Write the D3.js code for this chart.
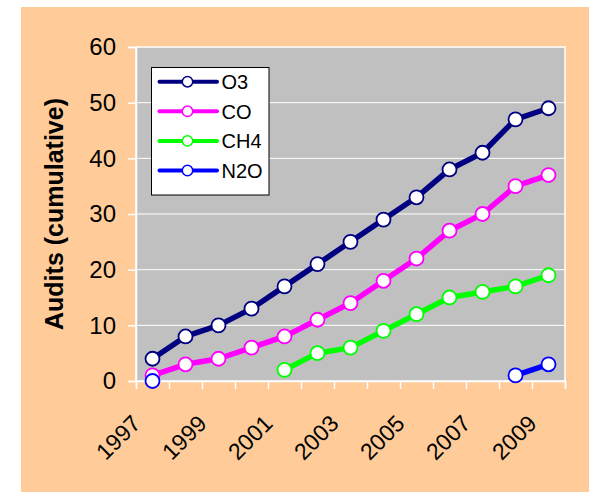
<!DOCTYPE html>
<html>
<head>
<meta charset="utf-8">
<script src="https://cdn.jsdelivr.net/npm/d3@7"></script>
<style>
  html, body { margin: 0; padding: 0; background: #ffffff; }
  svg { display: block; }
  text { font-family: "Liberation Sans", Arial, sans-serif; }
</style>
</head>
<body>
<svg id="chart" width="589" height="492"></svg>
<script>
// Cumulative audits per year, one value per year (plotted mid-year)
const years = [1997, 1998, 1999, 2000, 2001, 2002, 2003, 2004, 2005, 2006, 2007, 2008, 2009];
const o3  = [4, 8, 10, 13, 17, 21, 25, 29, 33, 38, 41, 47, 49];
const co  = [1, 3, 4, 6, 8, 11, 14, 18, 22, 27, 30, 35, 37];
const ch4 = [null, null, null, null, 2, 5, 6, 9, 12, 15, 16, 17, 19];
const n2o = [0, null, null, null, null, null, null, null, null, null, null, 1, 3];

const seriesNames = ["O3", "CO", "CH4", "N2O"];
const seriesColors = ["#000080", "#ff00ff", "#00ff00", "#0000ff"];
const seriesValues = [o3, co, ch4, n2o];

const yTicks = [0, 10, 20, 30, 40, 50, 60];
const xTickYears = [1997, 1998, 1999, 2000, 2001, 2002, 2003, 2004, 2005, 2006, 2007, 2008, 2009, 2010];
const xLabelYears = [1997, 1999, 2001, 2003, 2005, 2007, 2009];

const svg = d3.select("#chart");

// Outer panel
svg.append("rect")
  .attr("x", 21).attr("y", 7)
  .attr("width", 589 - 21).attr("height", 492 - 7)
  .attr("fill", "#ffcc99");

const plot = { left: 136, right: 565, top: 47, bottom: 381 };

const x = d3.scaleLinear().domain([1997, 2010]).range([plot.left, plot.right]);
const y = d3.scaleLinear().domain([0, 60]).range([plot.bottom, plot.top]);

// Plot area
svg.append("rect")
  .attr("x", plot.left).attr("y", plot.top)
  .attr("width", plot.right - plot.left).attr("height", plot.bottom - plot.top)
  .attr("fill", "#c0c0c0");

// Horizontal gridlines
svg.append("g").selectAll("line")
  .data(yTicks.filter(d => d > 0 && d < 60))
  .join("line")
  .attr("x1", plot.left).attr("x2", plot.right)
  .attr("y1", d => y(d)).attr("y2", d => y(d))
  .attr("stroke", "#ffffff").attr("stroke-width", 1);

// Plot border
svg.append("rect")
  .attr("x", plot.left).attr("y", plot.top)
  .attr("width", plot.right - plot.left).attr("height", plot.bottom - plot.top)
  .attr("fill", "none")
  .attr("stroke", "#ffffff").attr("stroke-width", 1.5);

// Y axis
const yAxis = d3.axisLeft(y).tickValues(yTicks).tickSize(8).tickPadding(12).tickFormat(d3.format("d"));
const gy = svg.append("g").attr("transform", `translate(${plot.left},0)`).call(yAxis);
gy.select(".domain").attr("stroke", "#ffffff").attr("stroke-width", 1.5);
gy.selectAll(".tick line").attr("stroke", "#ffffff").attr("stroke-width", 1.5);
gy.selectAll(".tick text")
  .attr("fill", "#000000")
  .style("font-size", "24px")
  .style("font-family", "'Liberation Sans', Arial, sans-serif");

// X axis
const xAxis = d3.axisBottom(x).tickValues(xTickYears).tickSize(8).tickFormat("");
const gx = svg.append("g").attr("transform", `translate(0,${plot.bottom})`).call(xAxis);
gx.select(".domain").attr("stroke", "#ffffff").attr("stroke-width", 1.5);
gx.selectAll(".tick line").attr("stroke", "#ffffff").attr("stroke-width", 1.5);

// Rotated year labels
svg.append("g").selectAll("text")
  .data(xLabelYears)
  .join("text")
  .attr("transform", d => `translate(${x(d) + 6},${plot.bottom + 44}) rotate(-45)`)
  .attr("text-anchor", "end")
  .style("font-size", "23px")
  .attr("fill", "#000000")
  .text(d => d);

// Axis title
svg.append("text")
  .attr("transform", `translate(63,${(plot.top + plot.bottom) / 2}) rotate(-90)`)
  .attr("text-anchor", "middle")
  .style("font-size", "25px")
  .style("font-weight", "bold")
  .attr("fill", "#000000")
  .text("Audits (cumulative)");

// Series lines and markers
const line = d3.line()
  .defined(d => d.v !== null)
  .x(d => x(d.year + 0.5))
  .y(d => y(d.v));

seriesValues.forEach((vals, i) => {
  const pts = years.map((yr, j) => ({ year: yr, v: vals[j] }));
  const g = svg.append("g");
  g.append("path")
    .datum(pts)
    .attr("d", line)
    .attr("fill", "none")
    .attr("stroke", seriesColors[i])
    .attr("stroke-width", 5.5)
    .attr("stroke-linejoin", "round");
  g.selectAll("circle")
    .data(pts.filter(d => d.v !== null))
    .join("circle")
    .attr("cx", d => x(d.year + 0.5))
    .attr("cy", d => y(d.v))
    .attr("r", 7)
    .attr("fill", "#ffffff")
    .attr("stroke", seriesColors[i])
    .attr("stroke-width", 1.8);
});

// Legend
const legend = svg.append("g");
legend.append("rect")
  .attr("x", 151.5).attr("y", 67.5)
  .attr("width", 117.5).attr("height", 127.5)
  .attr("fill", "#ffffff")
  .attr("stroke", "#000000").attr("stroke-width", 1);

seriesNames.forEach((name, i) => {
  const ly = 81.7 + i * 29.6;
  legend.append("line")
    .attr("x1", 159.5).attr("x2", 217)
    .attr("y1", ly).attr("y2", ly)
    .attr("stroke", seriesColors[i]).attr("stroke-width", 4)
    .attr("stroke-linecap", "round");
  legend.append("circle")
    .attr("cx", 187.5).attr("cy", ly).attr("r", 5.2)
    .attr("fill", "#ffffff")
    .attr("stroke", seriesColors[i]).attr("stroke-width", 1.5);
  legend.append("text")
    .attr("x", 221.5).attr("y", ly)
    .attr("dy", "0.36em")
    .style("font-size", "20px")
    .attr("fill", "#000000")
    .text(name);
});
</script>
</body>
</html>
